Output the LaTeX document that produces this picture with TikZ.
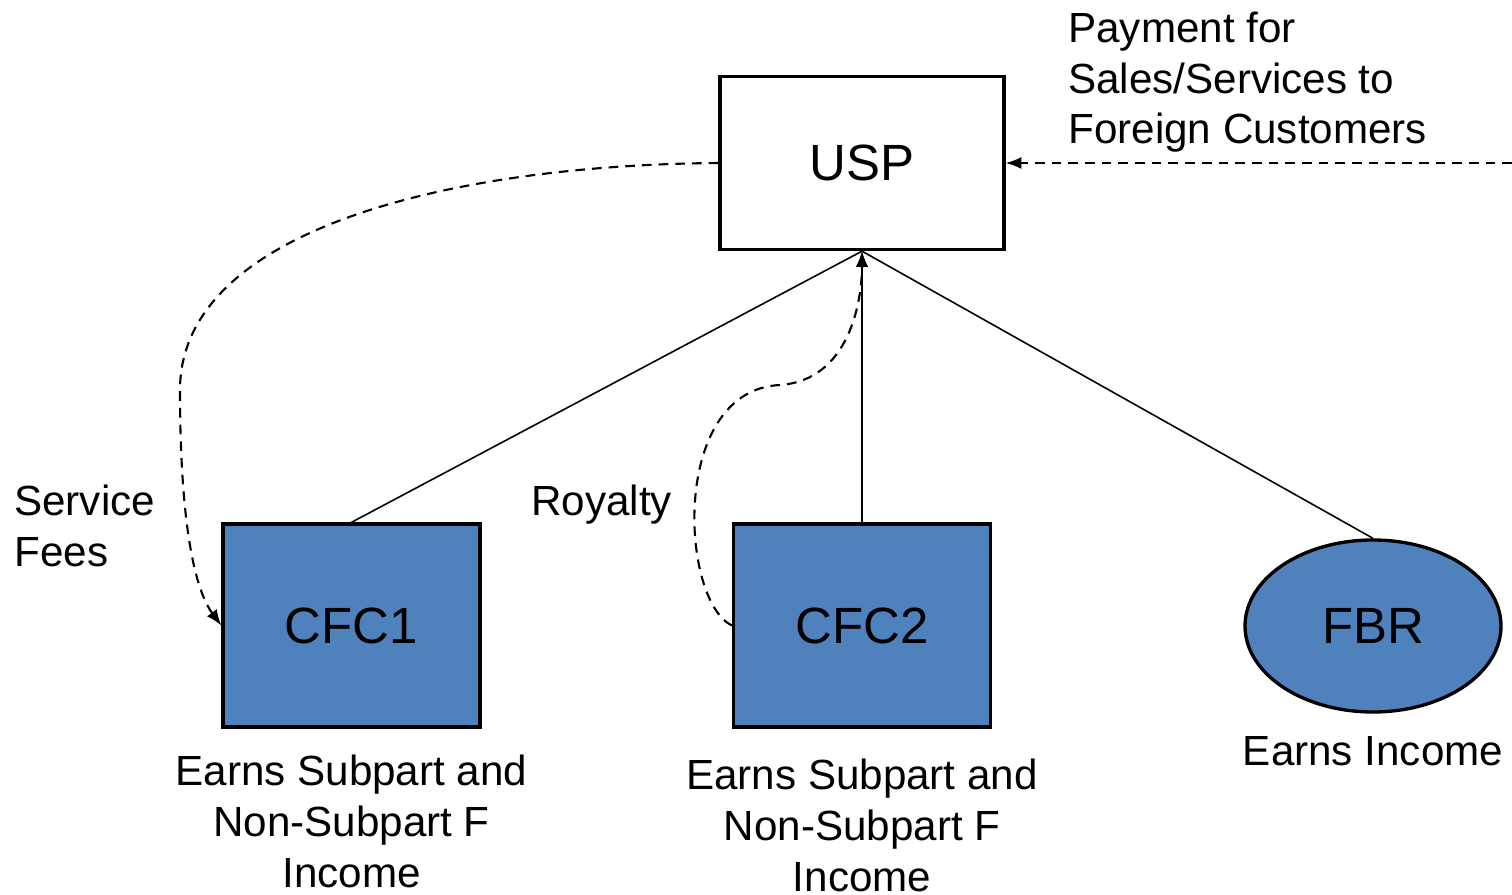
\documentclass[tikz,border=0pt]{standalone}
\usepackage{fontspec}
\setmainfont{Liberation Sans}
\usetikzlibrary{shapes.geometric, arrows.meta}
\definecolor{cfcblue}{HTML}{4F81BD}
\tikzset{
	entity/.style={draw, line width=1.9pt, minimum width=5.68cm, minimum height=3.46cm, font=\fontsize{29}{35}\selectfont},
	sub/.style={entity, fill=cfcblue, minimum width=5.14cm, minimum height=4.06cm},
	note/.style={inner sep=0pt, align=center, font=\fontsize{24}{29}\selectfont},
	flow/.style={line width=1.2pt, dash pattern=on 5.5pt off 4pt, -{Latex[length=9pt, width=7pt]}},
	own/.style={line width=0.9pt}
}
\begin{document}
\begin{tikzpicture}
				\useasboundingbox (0, 0) rectangle (30.24, -17.9);

				\node (USP) [entity] at (17.24, -3.26) {USP};
				\node (CFCa) [sub] at (7.03, -12.51) {CFC1};
				\node (CFCb) [sub] at (17.24, -12.51) {CFC2};
				\node (FBR) [entity, ellipse, fill=cfcblue, minimum width=5.12cm, minimum height=3.44cm] at (27.46, -12.52) {FBR};

				\draw [own] (USP.south) -- (CFCa.north);
				\draw [own, -{Latex[length=9pt, width=7pt]}] (CFCb.north) -- (USP.south);
				\draw [own] (USP.south) -- (FBR.north);

				\coordinate (Ext) at (30.24, -3.26);
				\draw [flow] (Ext) -- (USP.east);
				\node (Pay) [note, align=left, anchor=base west] at (21.36, -2.88) {Payment for\\Sales/Services to\\Foreign Customers};

				\draw [flow] (USP.west) .. controls (9, -3.3) and (3.6, -4.6) .. (3.6, -7.8) .. controls (3.6, -10.5) and (3.9, -11.8) .. (CFCa.west);
				\node (Fees) [note, align=left, anchor=base west] at (0.28, -11.32) {Service\\Fees};

				\draw [flow] (CFCb.west) .. controls (13.6, -12) and (13.4, -7.8) .. (15.6, -7.7) .. controls (17, -7.6) and (17.24, -6) .. (USP.south);
				\node (Roy) [note, anchor=base west] at (10.62, -10.3) {Royalty};

				\node (EarnA) [note, anchor=base] at (7.03, -17.74) {Earns Subpart and\\Non-Subpart F\\Income};
				\node (EarnB) [note, anchor=base] at (17.24, -17.82) {Earns Subpart and\\Non-Subpart F\\Income};
				\node (EarnC) [note, anchor=base] at (27.46, -15.3) {Earns Income};
\end{tikzpicture}
\end{document}
